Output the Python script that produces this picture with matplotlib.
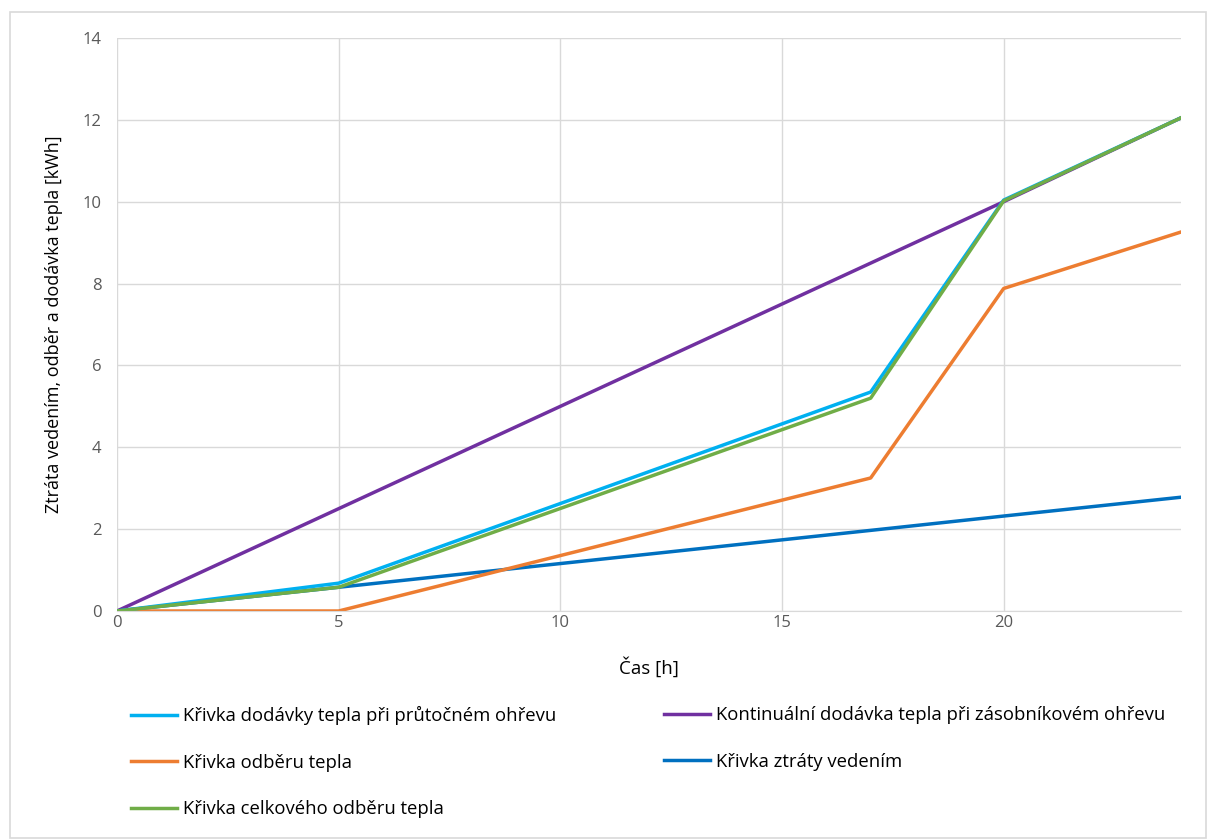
import matplotlib.pyplot as plt
from matplotlib.patches import Rectangle

plt.rcParams['font.family'] = ['Open Sans', 'DejaVu Sans']

# data
hours = [0, 5, 17, 20, 24]
prutok = [0, 0.68, 5.35, 10.04, 12.05]      # dodávka tepla při průtočném ohřevu
kontinualni = [0, 2.5, 8.5, 10.0, 12.05]    # kontinuální dodávka (zásobník)
odber = [0, 0, 3.25, 7.88, 9.26]            # odběr tepla
ztrata = [0, 0.58, 1.97, 2.32, 2.78]        # ztráta vedením
celkovy = [0, 0.58, 5.2, 10.02, 12.05]      # celkový odběr tepla

labels = ['Křivka dodávky tepla při průtočném ohřevu',
          'Kontinuální dodávka tepla při zásobníkovém ohřevu',
          'Křivka odběru tepla',
          'Křivka ztráty vedením',
          'Křivka celkového odběru tepla']

fig = plt.figure(figsize=(12.08, 8.39), dpi=100)
ax = fig.add_axes([117/1208, 1-611/839, (1181-117)/1208, (611-38)/839])

# outer chart border
fig.patches.append(Rectangle((10/1208, 1/839), 1196/1208, 826/839, transform=fig.transFigure,
                             fill=False, ec='#d9d9d9', lw=1.2))

l_pur, = ax.plot(hours, kontinualni, c='#7030a0', lw=2.5, label=labels[1])
l_blu, = ax.plot(hours, ztrata, c='#0070c0', lw=2.5, label=labels[3])
l_ora, = ax.plot(hours, odber, c='#ed7d31', lw=2.5, label=labels[2])
l_cya, = ax.plot(hours, prutok, c='#00b0f0', lw=2.5, label=labels[0])
l_gre, = ax.plot(hours, celkovy, c='#70ad47', lw=2.5, label=labels[4])

ax.set_xlim(0, 24)
ax.set_ylim(0, 14)
ax.set_xticks([0, 5, 10, 15, 20])
ax.set_yticks(range(0, 15, 2))
ax.grid(True, color='#d9d9d9', lw=1)
ax.set_axisbelow(True)
for s in ['top', 'right', 'left']:
    ax.spines[s].set_visible(False)
ax.spines['bottom'].set_color('#d9d9d9')
ax.tick_params(length=0, labelsize=12, colors='#595959')
ax.tick_params(axis='x', pad=3)
ax.tick_params(axis='y', pad=11)

ax.set_xlabel('Čas [h]', fontsize=13.5, color='#000000', labelpad=19)
ax.set_ylabel('Ztráta vedením, odběr a dodávka tepla [kWh]', fontsize=13, color='#000000', labelpad=14)

leg_kw = dict(loc='upper left', frameon=False, fontsize=13.3, handlelength=2.5,
              handletextpad=0.3, labelspacing=1.55, borderaxespad=0, borderpad=0)
fig.legend([l_cya, l_ora, l_gre], [labels[0], labels[2], labels[4]],
           bbox_to_anchor=(131/1208, 1-706/839), **leg_kw)
fig.legend([l_pur, l_blu], [labels[1], labels[3]],
           bbox_to_anchor=(664/1208, 1-706/839), **leg_kw)

fig.savefig('out.png', dpi=100)
